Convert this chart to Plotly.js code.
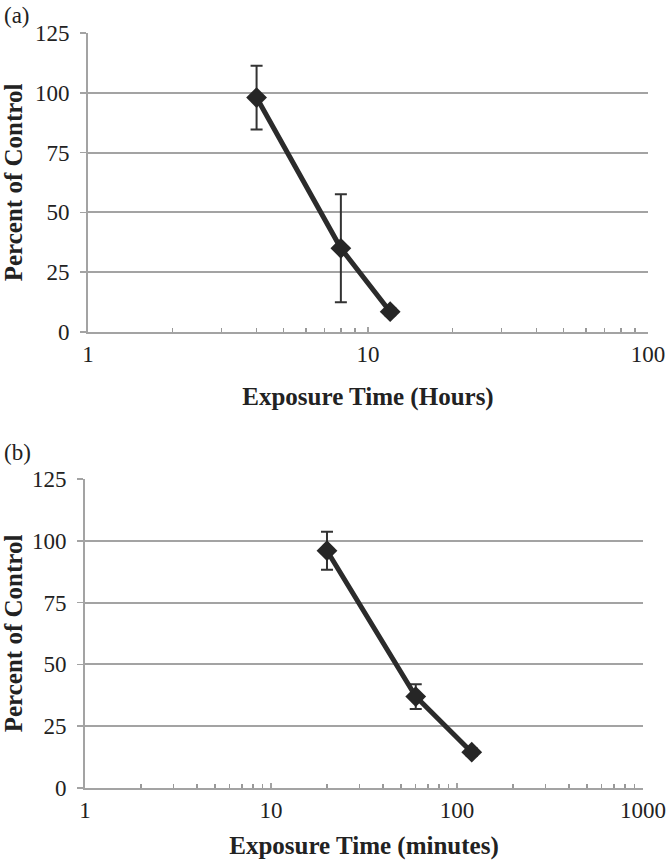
<!DOCTYPE html>
<html>
<head>
<meta charset="utf-8">
<script src="https://cdn.plot.ly/plotly-3.0.1.min.js"></script>
<style>
html,body{margin:0;padding:0;background:#fff;}
#chart{width:666px;height:862px;}
</style>
</head>
<body>
<div id="chart"></div>
<script>
// Panel (a): exposure time in hours
var hoursX = [4, 8, 12];
var hoursY = [98, 35, 8.5];
var hoursErr = [13.3, 22.6, 1.5];
// Panel (b): exposure time in minutes
var minutesX = [20, 60, 120];
var minutesY = [96, 37, 14.5];
var minutesErr = [7.7, 5, 1.5];

var yTicks = [0, 25, 50, 75, 100, 125];
var xTicksA = [1, 10, 100];
var xTicksB = [1, 10, 100, 1000];

var lineColor = '#2b2b2b';
var axisGray = '#a3a3a3';
var font = 'Liberation Serif, Times New Roman, serif';

function trace(x, y, err, xa, ya) {
  return {
    x: x, y: y, xaxis: xa, yaxis: ya,
    type: 'scatter', mode: 'lines+markers',
    line: {color: lineColor, width: 5},
    marker: {symbol: 'diamond', size: 16, color: '#262626'},
    error_y: {type: 'data', array: err, visible: true, color: '#333333', thickness: 2, width: 6},
    showlegend: false, hoverinfo: 'skip'
  };
}

function xAxis(range, ticks, anchor, title) {
  return {
    type: 'log', range: range, anchor: anchor,
    tickvals: ticks, ticktext: ticks.map(String),
    ticks: 'inside', ticklen: 5, tickwidth: 1.5, tickcolor: axisGray,
    minor: {ticks: 'inside', ticklen: 4, tickwidth: 1.5, tickcolor: '#999', dtick: 'D1', showgrid: false},
    showline: true, linecolor: axisGray, linewidth: 2,
    showgrid: false, zeroline: false,
    tickfont: {family: font, size: 23, color: '#222'},
    ticklabelstandoff: 0,
    automargin: false,
    title: {text: title, font: {family: font, size: 25, color: '#222', weight: 'bold'}, standoff: 22}
  };
}

function yAxis(anchor) {
  return {
    range: [0, 125], tickvals: yTicks, anchor: anchor,
    ticks: 'outside', ticklen: 6, tickwidth: 1.5, tickcolor: axisGray,
    showline: true, linecolor: axisGray, linewidth: 2,
    showgrid: true, gridcolor: axisGray, gridwidth: 2,
    zeroline: false,
    tickfont: {family: font, size: 23, color: '#222'},
    ticklabelstandoff: 6,
    automargin: false,
    title: {text: 'Percent of Control', font: {family: font, size: 25, color: '#222', weight: 'bold'}, standoff: 12}
  };
}

var H = 862, W = 666;
var xa = xAxis([0, 2], xTicksA, 'y', 'Exposure Time (Hours)');
xa.domain = [88 / W, 648 / W];
var ya = yAxis('x');
ya.domain = [1 - 332 / H, 1 - 33 / H];
var xb = xAxis([0, 3], xTicksB, 'y2', 'Exposure Time (minutes)');
xb.domain = [85 / W, 643 / W];
var yb = yAxis('x2');
yb.domain = [1 - 788 / H, 1 - 479 / H];
xb.title.standoff = 15;

var layout = {
  width: W, height: H,
  margin: {l: 0, r: 0, t: 0, b: 0},
  paper_bgcolor: '#fff', plot_bgcolor: '#fff',
  xaxis: xa, yaxis: ya, xaxis2: xb, yaxis2: yb,
  annotations: [
    {text: '(a)', xref: 'paper', yref: 'paper', x: 2 / W, y: 1 - 1 / H, xanchor: 'left', yanchor: 'top', showarrow: false,
     font: {family: font, size: 23, color: '#222'}},
    {text: '(b)', xref: 'paper', yref: 'paper', x: 2 / W, y: 1 - 438 / H, xanchor: 'left', yanchor: 'top', showarrow: false,
     font: {family: font, size: 23, color: '#222'}}
  ]
};

Plotly.newPlot('chart', [
  trace(hoursX, hoursY, hoursErr, 'x', 'y'),
  trace(minutesX, minutesY, minutesErr, 'x2', 'y2')
], layout, {staticPlot: true, displayModeBar: false});
</script>
</body>
</html>
